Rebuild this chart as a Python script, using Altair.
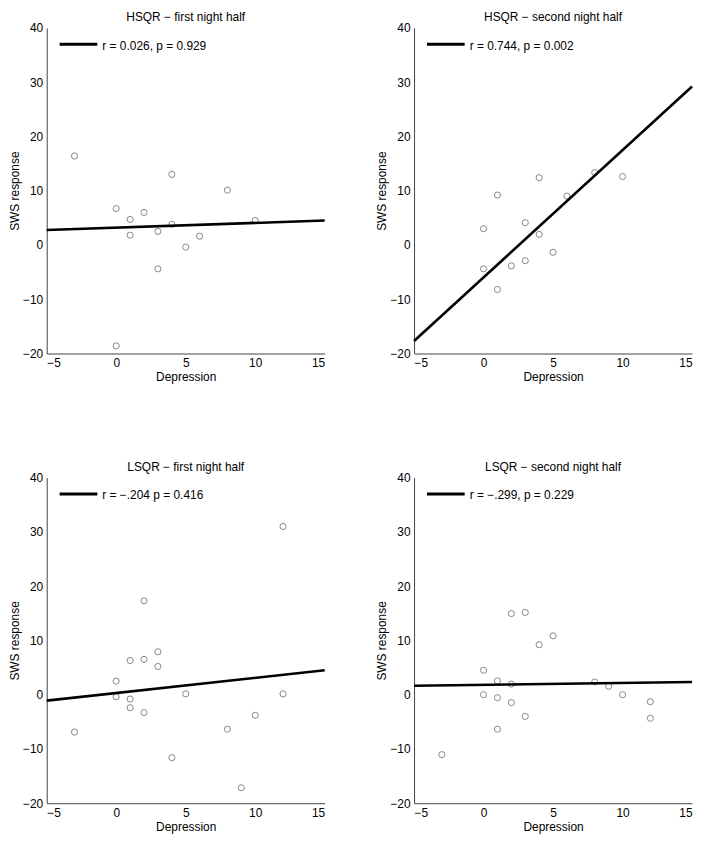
import altair as alt
import pandas as pd

FONT = "Liberation Sans"

x_ticks = [-5, 0, 5, 10, 15]
y_ticks = [-20, -10, 0, 10, 20, 30, 40]

titles = [
    "HSQR − first night half",
    "HSQR − second night half",
    "LSQR − first night half",
    "LSQR − second night half",
]
legend_texts = [
    "r = 0.026, p = 0.929",
    "r = 0.744, p = 0.002",
    "r = −.204 p = 0.416",
    "r = −.299, p = 0.229",
]

# HSQR - first night half
hsqr1_x = [-3, 4, 8, 0, 1, 2, 4, 10, 1, 3, 6, 5, 3, 0]
hsqr1_y = [16.4, 13.0, 10.1, 6.7, 4.7, 6.0, 3.8, 4.5, 1.8, 2.5, 1.6, -0.4, -4.4, -18.6]
hsqr1_fit_x = [-5, 15]
hsqr1_fit_y = [2.75, 4.5]

# HSQR - second night half
hsqr2_x = [8, 10, 4, 1, 6, 3, 0, 4, 5, 3, 2, 0, 1]
hsqr2_y = [13.35, 12.6, 12.4, 9.2, 9.0, 4.1, 3.0, 1.95, -1.35, -2.9, -3.85, -4.4, -8.2]
hsqr2_fit_x = [-5, 15]
hsqr2_fit_y = [-17.7, 29.2]

# LSQR - first night half
lsqr1_x = [12, 2, 3, 2, 1, 3, 0, 5, 12, 0, 1, 1, 2, 10, 8, -3, 4, 9]
lsqr1_y = [31.0, 17.3, 7.9, 6.5, 6.3, 5.2, 2.5, 0.15, 0.15, -0.4, -0.8, -2.4, -3.3, -3.8, -6.35, -6.9, -11.6, -17.15]
lsqr1_fit_x = [-5, 15]
lsqr1_fit_y = [-1.1, 4.5]

# LSQR - second night half
lsqr2_x = [3, 2, 5, 4, 0, 1, 8, 2, 9, 0, 10, 1, 12, 2, 3, 12, 1, -3]
lsqr2_y = [15.15, 14.95, 10.85, 9.2, 4.5, 2.55, 2.35, 1.95, 1.55, 0.0, 0.0, -0.55, -1.3, -1.45, -4.0, -4.35, -6.35, -11.05]
lsqr2_fit_x = [-5, 15]
lsqr2_fit_y = [1.65, 2.35]

W, H = 280, 328


def panel(xs, ys, fx, fy, title, legend):
    pts = pd.DataFrame({"Depression": xs, "SWS": ys})
    fit = pd.DataFrame({"Depression": fx, "SWS": fy})
    leg = pd.DataFrame({"t": [legend]})
    xenc = alt.X(
        "Depression:Q",
        scale=alt.Scale(domain=[-5, 15], nice=False, zero=False),
        axis=alt.Axis(values=x_ticks, title="Depression", labelPadding=4, titlePadding=3),
    )
    yenc = alt.Y(
        "SWS:Q",
        scale=alt.Scale(domain=[-20, 40], nice=False, zero=False),
        axis=alt.Axis(values=y_ticks, title="SWS response", labelPadding=4, titlePadding=1),
    )
    points = alt.Chart(pts).mark_point(
        shape="circle", filled=False, size=38, stroke="#555555", strokeWidth=1
    ).encode(x=xenc, y=yenc)
    line = alt.Chart(fit).mark_line(color="black", strokeWidth=2.6).encode(
        x="Depression:Q", y="SWS:Q"
    )
    leg_line = alt.Chart(leg).mark_rule(color="black", strokeWidth=3).encode(
        x=alt.value(13), x2=alt.value(51), y=alt.value(16.5)
    )
    leg_text = alt.Chart(leg).mark_text(
        align="left", baseline="middle", font=FONT, fontSize=12, color="black"
    ).encode(x=alt.value(56), y=alt.value(18), text="t:N")
    return alt.layer(points, line, leg_line, leg_text).properties(
        width=W, height=H, title=alt.TitleParams(title, offset=-2)
    )


p1 = panel(hsqr1_x, hsqr1_y, hsqr1_fit_x, hsqr1_fit_y, titles[0], legend_texts[0])
p2 = panel(hsqr2_x, hsqr2_y, hsqr2_fit_x, hsqr2_fit_y, titles[1], legend_texts[1])
p3 = panel(lsqr1_x, lsqr1_y, lsqr1_fit_x, lsqr1_fit_y, titles[2], legend_texts[2])
p4 = panel(lsqr2_x, lsqr2_y, lsqr2_fit_x, lsqr2_fit_y, titles[3], legend_texts[3])

chart = alt.vconcat(
    alt.hconcat(p1, p2, spacing=45),
    alt.hconcat(p3, p4, spacing=45),
    spacing=79,
).properties(padding=0, background="white").configure_view(stroke=None).configure_axis(
    grid=False,
    ticks=False,
    tickSize=0,
    domainColor="#444444",
    domainWidth=1,
    labelFont=FONT,
    titleFont=FONT,
    labelFontSize=12,
    titleFontSize=12,
    titleFontWeight="normal",
    labelColor="black",
    titleColor="black",
).configure_title(
    font=FONT, fontSize=12, fontWeight="normal", color="black", anchor="middle"
)

chart.save("out.html", embed_options={"renderer": "svg", "actions": False})
